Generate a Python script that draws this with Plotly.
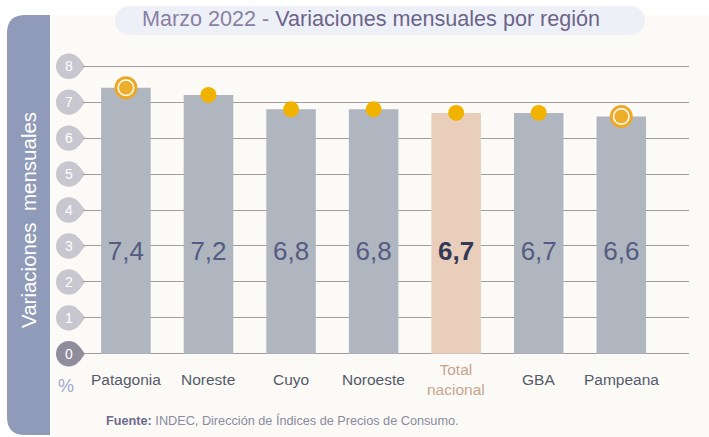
import plotly.graph_objects as go

# ---------------- data ----------------
regions = ["Patagonia", "Noreste", "Cuyo", "Noroeste", "Total nacional", "GBA", "Pampeana"]
values = [7.4, 7.2, 6.8, 6.8, 6.7, 6.7, 6.6]
highlight = [True, False, False, False, False, False, True]
total_name = "Total nacional"
y_ticks = [0, 1, 2, 3, 4, 5, 6, 7, 8]
y_tick_labels = ["0", "1", "2", "3", "4", "5", "6", "7", "8"]
x_tick_labels = ["Patagonia", "Noreste", "Cuyo", "Noroeste", "Total<br>nacional", "GBA", "Pampeana"]
value_labels = [f"{v:.1f}".replace(".", ",") for v in values]

# ---------------- layout helpers ----------------
W, H = 709, 437
L, R, T, B = 83, 20, 50, 67
PW, PH = W - L - R, H - T - B
FONT = "Liberation Sans, Arial, sans-serif"


def px(x):
    return (x - L) / PW


def py(y):
    return (H - B - y) / PH


CREAM = "#FBFAF6"
PANEL = "#8F9BB8"
BAR = "#AFB6C0"
BAR_TOTAL = "#E9CEBC"
DOT = "#F1B300"
RING = "#ECA927"

is_total = [r == total_name for r in regions]
bar_colors = [BAR_TOTAL if t else BAR for t in is_total]
lbl_colors = ["#343954" if t else "#555B80" for t in is_total]
lbl_text = [f"<b>{s}</b>" if t else s for s, t in zip(value_labels, is_total)]

fig = go.Figure()

fig.add_trace(go.Bar(
    x=regions, y=values, width=0.6, marker=dict(color=bar_colors, line=dict(width=0)),
    hoverinfo="skip", showlegend=False,
))

fig.add_trace(go.Scatter(
    x=regions, y=[2.8] * len(regions), mode="text", text=lbl_text,
    textfont=dict(size=26, color=lbl_colors, family=FONT), textposition="middle center",
    hoverinfo="skip", showlegend=False, cliponaxis=False,
))

norm_x = [r for r, h in zip(regions, highlight) if not h]
norm_y = [v for v, h in zip(values, highlight) if not h]
hi_x = [r for r, h in zip(regions, highlight) if h]
hi_y = [v for v, h in zip(values, highlight) if h]

fig.add_trace(go.Scatter(
    x=norm_x, y=norm_y, mode="markers",
    marker=dict(size=16, color=DOT, line=dict(width=0)),
    hoverinfo="skip", showlegend=False, cliponaxis=False,
))
fig.add_trace(go.Scatter(
    x=hi_x, y=hi_y, mode="markers",
    marker=dict(size=20, color="white", line=dict(width=3, color=RING)),
    hoverinfo="skip", showlegend=False, cliponaxis=False,
))
fig.add_trace(go.Scatter(
    x=hi_x, y=hi_y, mode="markers",
    marker=dict(size=14, color="#EDAE2C", line=dict(width=0)),
    hoverinfo="skip", showlegend=False, cliponaxis=False,
))

shapes = []
# cream panel
shapes.append(dict(type="rect", xref="paper", yref="paper", x0=px(50), x1=px(712), y0=py(440), y1=py(15),
                   fillcolor=CREAM, line=dict(width=0), layer="below"))
# blue left panel with rounded left corners
r = 18
xa, xb, ya, yb = 7, 50, 15, 435
path = (f"M {px(xb)},{py(ya)} L {px(xa + r)},{py(ya)} Q {px(xa)},{py(ya)} {px(xa)},{py(ya + r)} "
        f"L {px(xa)},{py(yb - r)} Q {px(xa)},{py(yb)} {px(xa + r)},{py(yb)} L {px(xb)},{py(yb)} Z")
shapes.append(dict(type="path", xref="paper", yref="paper", path=path,
                   fillcolor=PANEL, line=dict(width=0), layer="below"))
# title pill
pl, pr, pt, pb = 115, 645, 6, 35
rad = (pb - pt) / 2
PILL = "#EEF0F8"
shapes.append(dict(type="rect", xref="paper", yref="paper", x0=px(pl + rad), x1=px(pr - rad), y0=py(pb), y1=py(pt),
                   fillcolor=PILL, line=dict(width=0), layer="below"))
for cx in (pl + rad, pr - rad):
    shapes.append(dict(type="circle", xref="paper", yref="paper", x0=px(cx - rad), x1=px(cx + rad),
                       y0=py(pb), y1=py(pt), fillcolor=PILL, line=dict(width=0), layer="below"))
# balloon tick markers
for v in y_ticks:
    col = "#8F8C9B" if v == 0 else "#C8C6CE"
    shapes.append(dict(type="circle", xref="paper", yref="y", xsizemode="pixel", ysizemode="pixel",
                       xanchor=px(85), yanchor=v, x0=-29, x1=-3.5, y0=-12.7, y1=12.7,
                       fillcolor=col, line=dict(width=0), layer="below"))
    shapes.append(dict(type="path", xref="paper", yref="y", xsizemode="pixel", ysizemode="pixel",
                       xanchor=px(85), yanchor=v, path="M 0,0 L -5.6,7.6 L -16,0 L -5.6,-7.6 Z",
                       fillcolor=col, line=dict(width=0), layer="below"))

annotations = []
annotations.append(dict(
    xref="paper", yref="paper", x=px(371), y=py(19), xanchor="center", yanchor="middle", showarrow=False,
    text="<span style='color:#8A7FA2'>Marzo 2022 - </span><span style='color:#6D6488'>Variaciones mensuales por región</span>",
    font=dict(size=21.6, family=FONT),
))
annotations.append(dict(
    xref="paper", yref="paper", x=px(28), y=py(220), xanchor="center", yanchor="middle", showarrow=False,
    text="Variaciones  mensuales", textangle=-90, font=dict(size=20.5, color="white", family=FONT),
))
for v, s in zip(y_ticks, y_tick_labels):
    annotations.append(dict(
        xref="paper", yref="y", x=px(69), y=v, xanchor="center", yanchor="middle", showarrow=False,
        text=s, font=dict(size=14, color="white", family=FONT),
    ))
annotations.append(dict(
    xref="paper", yref="paper", x=px(66), y=py(386), xanchor="center", yanchor="middle", showarrow=False,
    text="%", font=dict(size=18, color="#A2A8CC", family=FONT),
))
for reg, lab, t in zip(regions, x_tick_labels, is_total):
    annotations.append(dict(
        xref="x", yref="paper", x=reg, y=py(379), xanchor="center", yanchor="middle", showarrow=False,
        text=lab, font=dict(size=15.5, color="#C9A58F" if t else "#555A6C", family=FONT),
    ))
annotations.append(dict(
    xref="paper", yref="paper", x=px(104), y=py(420), xanchor="left", yanchor="middle", showarrow=False,
    text="<span style='color:#6C6C8C'><b>Fuente:</b></span> INDEC, Dirección de Índices de Precios de Consumo.",
    font=dict(size=12.7, color="#8A8AA0", family=FONT),
))

fig.update_layout(
    width=W, height=H,
    margin=dict(l=L, r=R, t=T, b=B, pad=0),
    paper_bgcolor="white", plot_bgcolor=CREAM,
    font=dict(family=FONT),
    showlegend=False,
    bargap=0.4,
    shapes=shapes,
    annotations=annotations,
    xaxis=dict(range=[-0.52, 6.82], showgrid=False, showticklabels=False, zeroline=False, showline=False,
               ticks="", fixedrange=True),
    yaxis=dict(range=[-0.45, 8.45], tickvals=y_ticks, showticklabels=False, showgrid=True,
               gridcolor="#A09D9A", gridwidth=1.2, zeroline=False, showline=False, ticks="", fixedrange=True),
)

fig.write_html("out.html", config={"displayModeBar": False},
               post_script="document.body.style.margin='0';document.body.style.overflow='hidden';")
